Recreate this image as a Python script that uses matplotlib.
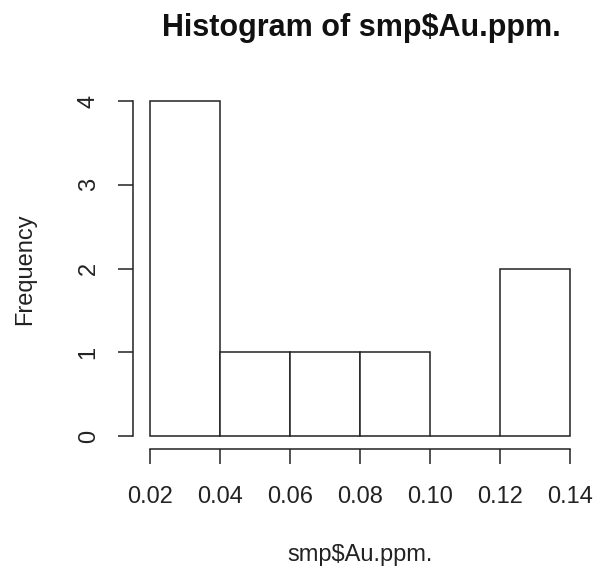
import matplotlib
matplotlib.use("Agg")
import matplotlib.pyplot as plt

# histogram of smp$Au.ppm. (R base style)
bin_edges = [0.02, 0.04, 0.06, 0.08, 0.10, 0.12, 0.14]
counts = [4, 1, 1, 1, 0, 2]
x_ticks = [0.02, 0.04, 0.06, 0.08, 0.10, 0.12, 0.14]
x_labels = ["0.02", "0.04", "0.06", "0.08", "0.10", "0.12", "0.14"]
y_ticks = [0, 1, 2, 3, 4]

plt.rcParams["font.family"] = ["Liberation Sans", "DejaVu Sans"]

W, H = 604, 572
fig = plt.figure(figsize=(W / 100, H / 100), dpi=100)
ax = fig.add_axes([133 / W, 1 - 449.4 / H, (587 - 133) / W, (449.4 - 87.6) / H])

widths = [b - a for a, b in zip(bin_edges[:-1], bin_edges[1:])]
ax.bar(bin_edges[:-1], counts, width=widths, align="edge",
       color="white", edgecolor="#222222", linewidth=1.1)

ax.set_xlim(0.02 - 0.0048, 0.14 + 0.0048)
ax.set_ylim(-0.16, 4.16)

for s in ["top", "right"]:
    ax.spines[s].set_visible(False)
ax.spines["bottom"].set_bounds(x_ticks[0], x_ticks[-1])
ax.spines["left"].set_bounds(y_ticks[0], y_ticks[-1])
for s in ["bottom", "left"]:
    ax.spines[s].set_linewidth(1.1)
    ax.spines[s].set_color("#222222")

ax.set_xticks(x_ticks)
ax.set_xticklabels(x_labels)
ax.set_yticks(y_ticks)
ax.set_yticklabels([str(v) for v in y_ticks], rotation=90, va="center")
ax.tick_params(length=11, width=1.1, color="#222222", labelsize=17, labelcolor="#222222")
ax.tick_params(axis="x", pad=15)
ax.tick_params(axis="y", pad=13)

fig.text(361 / W, 1 - 28 / H, "Histogram of smp$Au.ppm.", ha="center", va="center",
         fontsize=22, fontweight="bold", color="#111111")
fig.text(360 / W, 1 - 555 / H, "smp$Au.ppm.", ha="center", va="center",
         fontsize=17, color="#222222")
fig.text(25 / W, 1 - 269 / H, "Frequency", ha="center", va="center",
         fontsize=17, rotation=90, color="#222222")

fig.savefig("out.png", dpi=100)
